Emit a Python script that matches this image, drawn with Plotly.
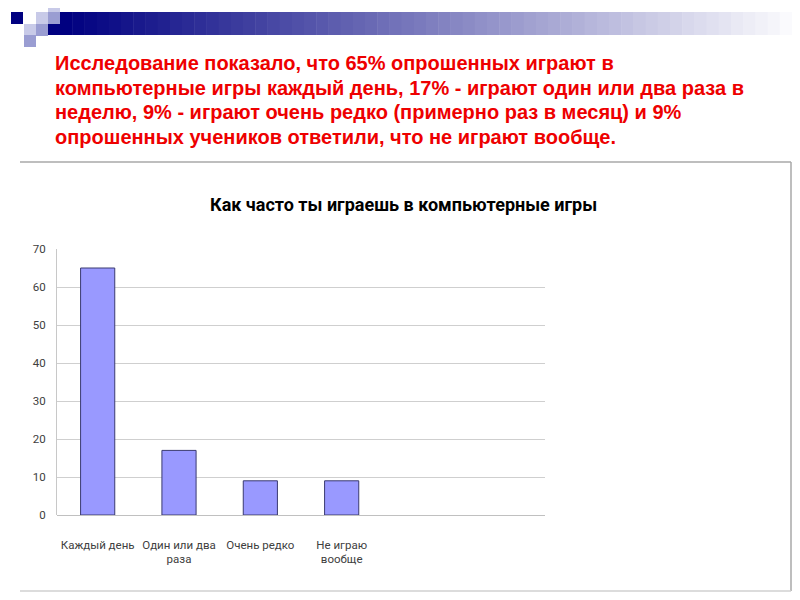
import plotly.graph_objects as go

OFF = 8  # page body margin of the saved html
W, H = 800 - 2 * OFF, 600 - 2 * OFF

# chart data
categories = ['Каждый день', 'Один или два<br>раза', 'Очень редко', 'Не играю<br>вообще']
values = [65, 17, 9, 9]
y_ticks = [0, 10, 20, 30, 40, 50, 60, 70]

title_text = 'Как часто ты играешь в компьютерные игры'
intro_lines = [
    'Исследование показало, что 65% опрошенных играют в',
    'компьютерные игры каждый день, 17% - играют один или два раза в',
    'неделю, 9% - играют очень редко (примерно раз в месяц) и 9%',
    'опрошенных учеников ответили, что не играют вообще.',
]


def px(x):
    return (x - OFF) / W


def py(y):
    return 1 - (y - OFF) / H


narrow = 'Roboto, sans-serif'

fig = go.Figure()
fig.add_trace(go.Bar(
    x=list(range(len(categories))), y=values,
    width=0.42,
    marker=dict(color='#9999ff', line=dict(color='#3a3a70', width=1)),
))

shapes = []
# header gradient band (navy -> white)
n = 60
x0, x1 = 60, 792
for i in range(n):
    t = i / (n - 1)
    r = int(t * 250)
    g = int(t * 250)
    b = int(128 + t * 125)
    a = x0 + (x1 - x0) * i / n
    c = x0 + (x1 - x0) * (i + 1) / n + 0.5
    shapes.append(dict(type='rect', xref='paper', yref='paper', x0=px(a), x1=px(c),
                       y0=py(35), y1=py(12), fillcolor=f'rgb({r},{g},{b})', line_width=0, layer='below'))
shapes.append(dict(type='rect', xref='paper', yref='paper', x0=px(48), x1=px(60),
                   y0=py(35), y1=py(24), fillcolor='#000080', line_width=0))
# decorative squares
squares = [
    (11, 12, '#000080'),
    (48, 0, '#c8cae8'),
    (36, 12, '#c8cae8'),
    (48, 12, '#9a9dd2'),
    (24, 24, '#c8cae8'),
    (36, 24, '#9a9dd2'),
    (24, 35, '#9a9dd2'),
]
for sx, sy, col in squares:
    shapes.append(dict(type='rect', xref='paper', yref='paper', x0=px(sx), x1=px(sx + 12),
                       y0=py(sy + 12), y1=py(sy), fillcolor=col, line_width=0))

# chart frame
frame = dict(color='#a8a8a8', width=1.5)
shapes.append(dict(type='line', xref='paper', yref='paper', x0=px(20), x1=px(791), y0=py(162), y1=py(162), line=frame))
shapes.append(dict(type='line', xref='paper', yref='paper', x0=px(791), x1=px(791), y0=py(162), y1=py(591), line=frame))
shapes.append(dict(type='line', xref='paper', yref='paper', x0=px(20), x1=px(791), y0=py(591), y1=py(591),
                   line=dict(color='#d0d0d0', width=1.5)))

annotations = []
for i, line in enumerate(intro_lines):
    annotations.append(dict(
        text=line, xref='paper', yref='paper', x=px(53), y=py(63 + i * 24.6),
        xanchor='left', yanchor='middle', showarrow=False,
        font=dict(family='Liberation Sans, Arial, sans-serif', size=20, color='#ee0000', weight='bold'),
    ))
annotations.append(dict(
    text=title_text, xref='paper', yref='paper', x=px(404), y=py(204),
    xanchor='center', yanchor='middle', showarrow=False,
    font=dict(family=narrow, size=18, color='#000000', weight='bold'),
))

fig.update_layout(
    width=W, height=H,
    margin=dict(l=0, r=0, t=0, b=0),
    paper_bgcolor='white', plot_bgcolor='white',
    showlegend=False,
    shapes=shapes,
    annotations=annotations,
    xaxis=dict(
        domain=[px(57), px(545)], range=[-0.5, 5.5],
        tickmode='array', tickvals=list(range(len(categories))), ticktext=categories,
        showgrid=False, zeroline=False, showline=False, ticks='',
        ticklabelstandoff=21,
        tickfont=dict(family=narrow, size=11.5, color='#404040'),
        automargin=False, fixedrange=True,
    ),
    yaxis=dict(
        domain=[py(515), py(249)], range=[0, 70],
        tickmode='array', tickvals=y_ticks,
        showgrid=True, gridcolor='#cfcfcf', gridwidth=1,
        zeroline=True, zerolinecolor='#c0c0c0', zerolinewidth=1,
        showline=True, linecolor='#c8c8c8', linewidth=1,
        ticks='', ticklabelstandoff=8,
        tickfont=dict(family=narrow, size=11.5, color='#404040'),
        automargin=False, fixedrange=True,
    ),
)

fig.write_html('out.html')
